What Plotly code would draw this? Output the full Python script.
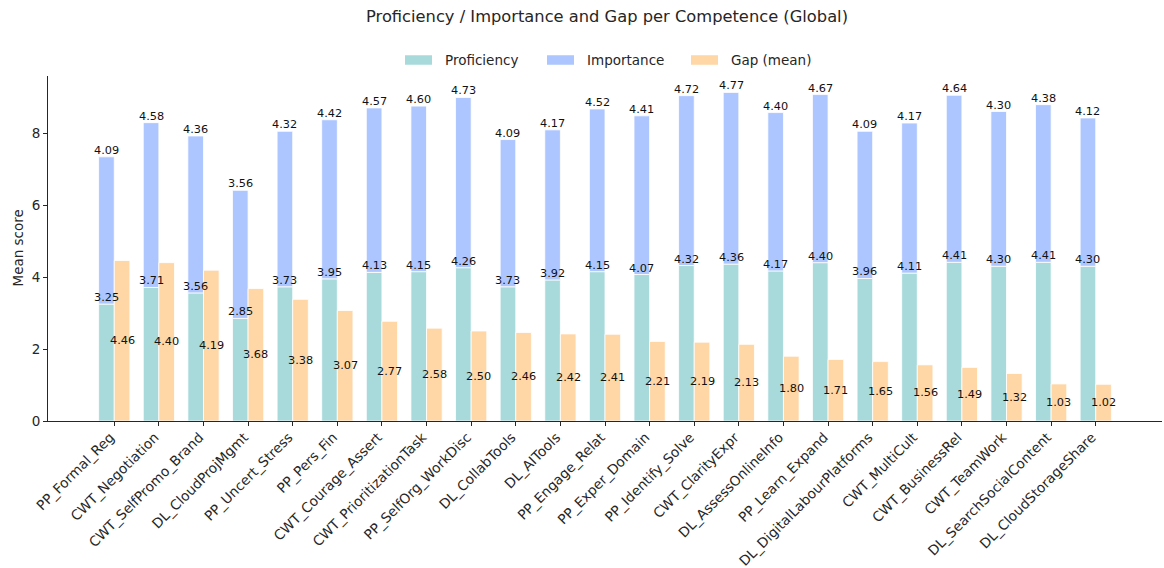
import plotly.graph_objects as go

# Competences, ordered by descending gap
competences = [
    "PP_Formal_Reg", "CWT_Negotiation", "CWT_SelfPromo_Brand", "DL_CloudProjMgmt",
    "PP_Uncert_Stress", "PP_Pers_Fin", "CWT_Courage_Assert", "CWT_PrioritizationTask",
    "PP_SelfOrg_WorkDisc", "DL_CollabTools", "DL_AITools", "PP_Engage_Relat",
    "PP_Exper_Domain", "PP_Identify_Solve", "CWT_ClarityExpr", "DL_AssessOnlineInfo",
    "PP_Learn_Expand", "DL_DigitalLabourPlatforms", "CWT_MultiCult", "CWT_BusinessRel",
    "CWT_TeamWork", "DL_SearchSocialContent", "DL_CloudStorageShare",
]
proficiency = [3.25, 3.71, 3.56, 2.85, 3.73, 3.95, 4.13, 4.15, 4.26, 3.73, 3.92, 4.15,
               4.07, 4.32, 4.36, 4.17, 4.40, 3.96, 4.11, 4.41, 4.30, 4.41, 4.30]
importance = [4.09, 4.58, 4.36, 3.56, 4.32, 4.42, 4.57, 4.60, 4.73, 4.09, 4.17, 4.52,
              4.41, 4.72, 4.77, 4.40, 4.67, 4.09, 4.17, 4.64, 4.30, 4.38, 4.12]
gap = [4.46, 4.40, 4.19, 3.68, 3.38, 3.07, 2.77, 2.58, 2.50, 2.46, 2.42, 2.41,
       2.21, 2.19, 2.13, 1.80, 1.71, 1.65, 1.56, 1.49, 1.32, 1.03, 1.02]
y_ticks = [0, 2, 4, 6, 8]

TEAL = "#a8dadc"
BLUE = "#adc6ff"
ORANGE = "#ffd6a5"
INK = "#262626"
FONT = "DejaVu Sans"

W, H = 1164, 568
ML, MR, MT, MB = 48, 2, 76, 147
PW, PH = W - ML - MR, H - MT - MB
BAR_W = 0.35

n = len(competences)
stack_top = [p + i for p, i in zip(proficiency, importance)]
y_max = max(stack_top + gap) * 1.05
x_span = n - 1 + 2 * BAR_W
x_pad = 0.05 * x_span


def px_x(px):
    return (px - ML) / PW


def px_y(py):
    return (H - MB - py) / PH


edge = dict(color="white", width=0.8)
fig = go.Figure()
fig.add_trace(go.Bar(name="Proficiency", x=competences, y=proficiency,
                     width=BAR_W, offset=-BAR_W,
                     marker=dict(color=TEAL, line=edge), showlegend=False))
fig.add_trace(go.Bar(name="Importance", x=competences, y=importance, base=proficiency,
                     width=BAR_W, offset=-BAR_W,
                     marker=dict(color=BLUE, line=edge), showlegend=False))
fig.add_trace(go.Bar(name="Gap (mean)", x=competences, y=gap,
                     width=BAR_W, offset=0,
                     marker=dict(color=ORANGE, line=edge), showlegend=False))

annotations = []
label_font = dict(family=FONT, size=11.3, color="#111")
for i, (p, imp, g) in enumerate(zip(proficiency, importance, gap)):
    annotations.append(dict(x=i - BAR_W / 2, y=p, xref="x", yref="y", text=f"{p:.2f}",
                            showarrow=False, yanchor="bottom", font=label_font, yshift=-2))
    annotations.append(dict(x=i - BAR_W / 2, y=p + imp, xref="x", yref="y", text=f"{imp:.2f}",
                            showarrow=False, yanchor="bottom", font=label_font, yshift=-2))
    annotations.append(dict(x=i + BAR_W / 2, y=g / 2, xref="x", yref="y", text=f"{g:.2f}",
                            showarrow=False, yanchor="middle", font=label_font))

# y-axis title
annotations.append(dict(x=px_x(17), y=0.5, xref="paper", yref="paper", text="Mean score",
                        textangle=-90, showarrow=False, xanchor="center", yanchor="middle",
                        font=dict(family=FONT, size=13.5, color=INK)))

# legend drawn as swatches + labels above the plot
shapes = []
legend_items = [("Proficiency", TEAL, 405), ("Importance", BLUE, 547), ("Gap (mean)", ORANGE, 691)]
sw_w, sw_h, leg_y = 27, 9.5, 60
for label, color, left in legend_items:
    shapes.append(dict(type="rect", xref="paper", yref="paper",
                       x0=px_x(left), x1=px_x(left + sw_w),
                       y0=px_y(leg_y + sw_h / 2), y1=px_y(leg_y - sw_h / 2),
                       fillcolor=color, line=dict(width=0)))
    annotations.append(dict(x=px_x(left + sw_w + 11), y=px_y(leg_y), xref="paper", yref="paper",
                            text=label, showarrow=False, xanchor="left", yanchor="middle",
                            font=dict(family=FONT, size=13.5, color=INK)))

fig.update_layout(
    width=W, height=H,
    margin=dict(l=ML, r=MR, t=MT, b=MB, autoexpand=False),
    paper_bgcolor="white", plot_bgcolor="white",
    barmode="overlay",
    font=dict(family=FONT, size=13.5, color=INK),
    title=dict(text="Proficiency / Importance and Gap per Competence (Global)",
               x=px_x(607), xref="paper", xanchor="center",
               y=1 - 16 / H, yref="container", yanchor="middle",
               font=dict(family=FONT, size=16.3, color=INK)),
    xaxis=dict(type="category", range=[-BAR_W - x_pad, n - 1 + BAR_W + x_pad],
               showline=True, linecolor=INK, linewidth=1, mirror=False,
               ticks="outside", ticklen=4, tickcolor=INK, tickwidth=1,
               tickangle=-45, showgrid=False, zeroline=False,
               ticklabelshift=-4, ticklabelstandoff=-2,
               tickfont=dict(family=FONT, size=13.7, color=INK), automargin=False),
    yaxis=dict(range=[0, y_max], tickvals=y_ticks,
               showline=True, linecolor=INK, linewidth=1, mirror=False,
               ticks="outside", ticklen=4, tickcolor=INK, tickwidth=1,
               showgrid=False, zeroline=False,
               tickfont=dict(family=FONT, size=13.5, color=INK), automargin=False),
    shapes=shapes,
    annotations=annotations,
    hovermode=False,
)

fig.write_html("out.html")
